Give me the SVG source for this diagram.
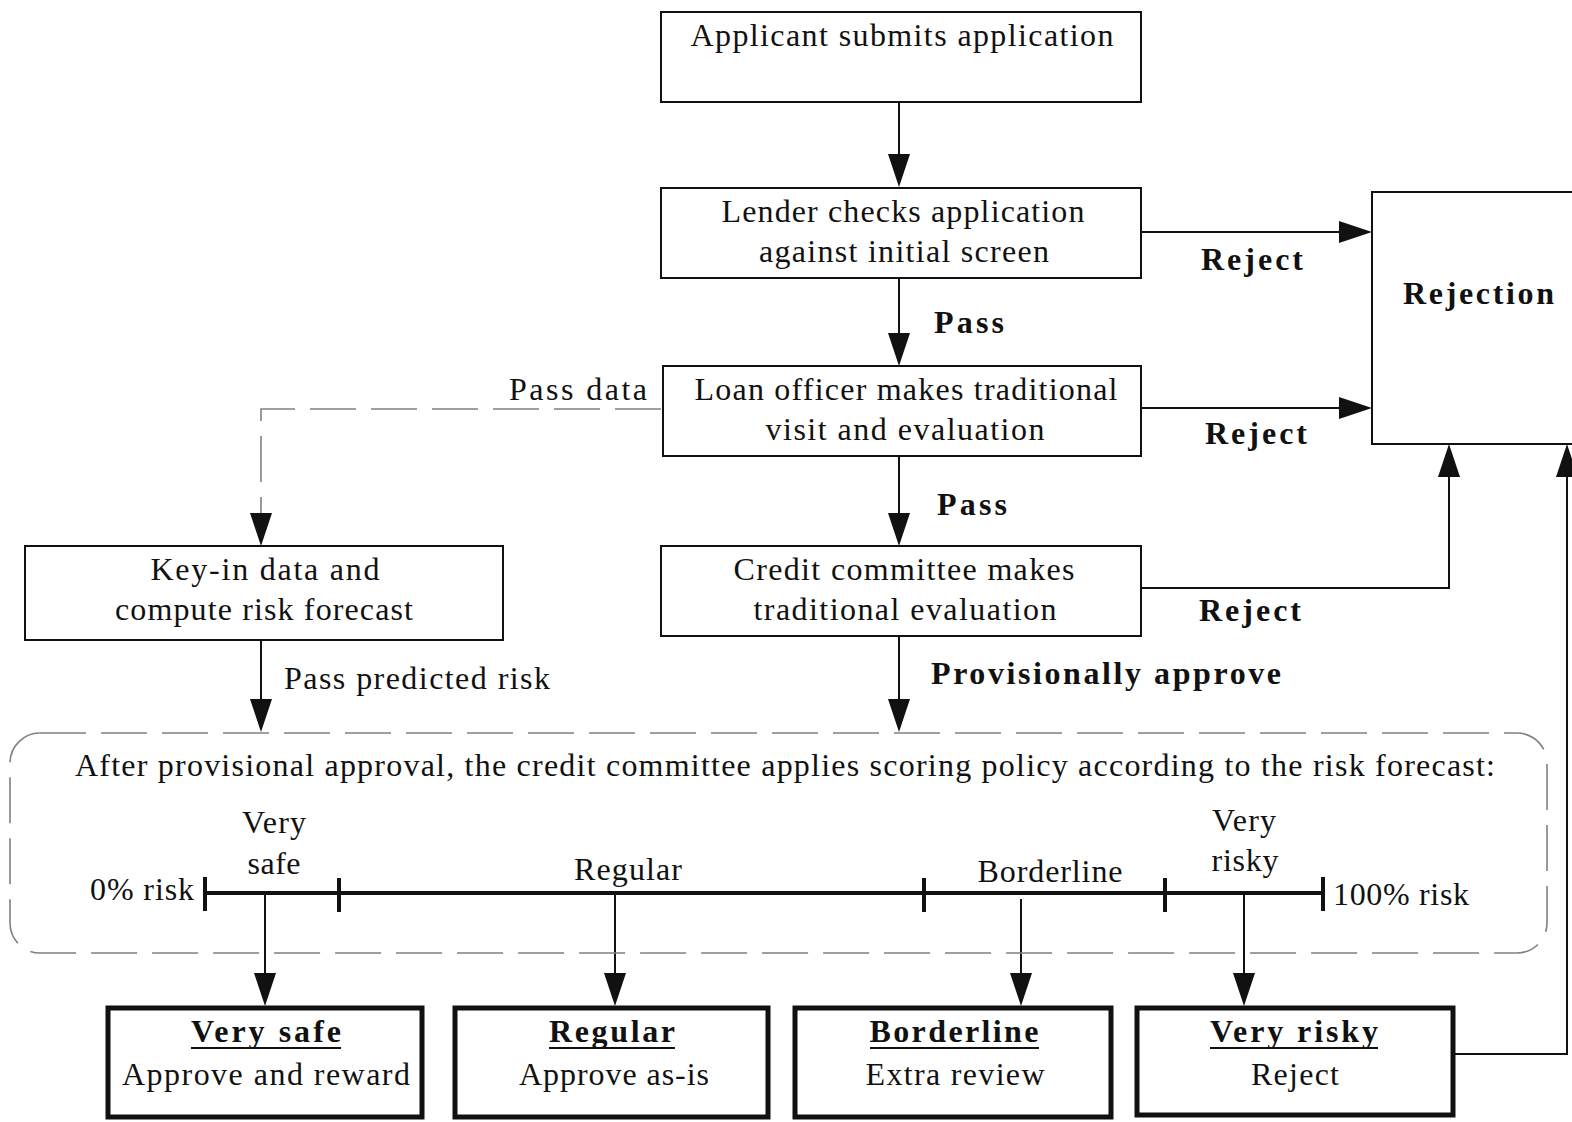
<svg xmlns="http://www.w3.org/2000/svg" width="1572" height="1122" viewBox="0 0 1572 1122">
<style>
text{font-family:"Liberation Serif","Times New Roman",serif;font-size:32px;fill:#111}
.b{font-weight:bold}
.m{text-anchor:middle}
.e{text-anchor:end}
.box{fill:#fff;stroke:#111;stroke-width:2}
.tbox{fill:#fff;stroke:#111;stroke-width:5}
.ln{fill:none;stroke:#111;stroke-width:2}
.dash{fill:none;stroke:#808080;stroke-width:1.6;stroke-dasharray:46 15}
.bar{fill:none;stroke:#111;stroke-width:4}
.ul{stroke:#111;stroke-width:2}
</style>
<defs>
<marker id="ah" markerUnits="userSpaceOnUse" markerWidth="34" markerHeight="22" refX="13" refY="11" orient="auto" viewBox="0 0 34 22">
<path d="M0,0 L33,11 L0,22 Z" fill="#111"/>
</marker>
</defs>
<rect width="1572" height="1122" fill="#fff"/>

<g id="connectors">
<path class="ln" d="M899,102 V167" marker-end="url(#ah)"/>
<path class="ln" d="M899,278 V346" marker-end="url(#ah)"/>
<path class="ln" d="M899,456 V526" marker-end="url(#ah)"/>
<path class="ln" d="M899,636 V712" marker-end="url(#ah)"/>
<path class="ln" d="M261,640 V712" marker-end="url(#ah)"/>
<path class="dash" d="M661,409 H261 V526" marker-end="url(#ah)"/>
<path class="ln" d="M1141,232 H1352" marker-end="url(#ah)"/>
<path class="ln" d="M1141,408 H1352" marker-end="url(#ah)"/>
<path class="ln" d="M1141,588 H1449 V464" marker-end="url(#ah)"/>
<path class="ln" d="M1454,1054 H1567 V464" marker-end="url(#ah)"/>
<path class="ln" d="M265,893 V986" marker-end="url(#ah)"/>
<path class="ln" d="M615,893 V986" marker-end="url(#ah)"/>
<path class="ln" d="M1021,899 V986" marker-end="url(#ah)"/>
<path class="ln" d="M1244,893 V986" marker-end="url(#ah)"/>
<text x="934" y="333" class="b" textLength="70">Pass</text>
<text x="937" y="515" class="b" textLength="70">Pass</text>
<text x="931" y="684" class="b" textLength="350">Provisionally approve</text>
<text x="1201" y="270" class="b" textLength="102">Reject</text>
<text x="1205" y="444" class="b" textLength="102">Reject</text>
<text x="1199" y="621" class="b" textLength="102">Reject</text>
<text x="647" y="400" class="e" textLength="138">Pass data</text>
<text x="284" y="689" textLength="266">Pass predicted risk</text>
</g>

<g id="n-applicant">
<rect class="box" x="661" y="12" width="480" height="90"/>
<text x="902" y="46" class="m" textLength="423">Applicant submits application</text>
</g>

<g id="n-lender">
<rect class="box" x="661" y="188" width="480" height="90"/>
<text x="903" y="222" class="m" textLength="363">Lender checks application</text>
<text x="904" y="262" class="m" textLength="290">against initial screen</text>
</g>

<g id="n-loan">
<rect class="box" x="663" y="366" width="478" height="90"/>
<text x="906" y="400" class="m" textLength="423">Loan officer makes traditional</text>
<text x="905" y="440" class="m" textLength="279">visit and evaluation</text>
</g>

<g id="n-credit">
<rect class="box" x="661" y="546" width="480" height="90"/>
<text x="904" y="580" class="m" textLength="341">Credit committee makes</text>
<text x="905" y="620" class="m" textLength="303">traditional evaluation</text>
</g>

<g id="n-keyin">
<rect class="box" x="25" y="546" width="478" height="94"/>
<text x="265" y="580" class="m" textLength="229">Key-in data and</text>
<text x="264" y="620" class="m" textLength="298">compute risk forecast</text>
</g>

<g id="n-rejection">
<rect class="box" x="1372" y="192" width="260" height="252"/>
<text x="1403" y="304" class="b" textLength="151">Rejection</text>
</g>

<g id="n-policy">
<rect class="dash" x="10" y="733" width="1537" height="220" rx="30" ry="30"/>
<text x="785" y="776" class="m" textLength="1420">After provisional approval, the credit committee applies scoring policy according to the risk forecast:</text>
<path class="bar" d="M205,893 H1323"/>
<path class="bar" d="M205,877 V911 M339,878 V912 M924,878 V912 M1165,878 V912 M1323,877 V911"/>
<text x="194" y="900" class="e" textLength="104">0% risk</text>
<text x="1333" y="905" textLength="136">100% risk</text>
<text x="274" y="833" class="m" textLength="64">Very</text>
<text x="274" y="874" class="m" textLength="53">safe</text>
<text x="628" y="880" class="m" textLength="108">Regular</text>
<text x="1050" y="882" class="m" textLength="145">Borderline</text>
<text x="1244" y="831" class="m" textLength="64">Very</text>
<text x="1245" y="871" class="m" textLength="67">risky</text>
</g>

<g id="n-verysafe">
<rect class="tbox" x="108" y="1008" width="314" height="109"/>
<text x="266" y="1042" class="m b" textLength="150">Very safe</text>
<line class="ul" x1="191" y1="1048" x2="341" y2="1048"/>
<text x="266" y="1085" class="m" textLength="288">Approve and reward</text>
</g>

<g id="n-regular">
<rect class="tbox" x="455" y="1008" width="313" height="109"/>
<text x="612" y="1042" class="m b" textLength="126">Regular</text>
<line class="ul" x1="549" y1="1048" x2="675" y2="1048"/>
<text x="614" y="1085" class="m" textLength="190">Approve as-is</text>
</g>

<g id="n-borderline">
<rect class="tbox" x="795" y="1008" width="316" height="109"/>
<text x="954" y="1042" class="m b" textLength="169">Borderline</text>
<line class="ul" x1="870" y1="1048" x2="1039" y2="1048"/>
<text x="955" y="1085" class="m" textLength="179">Extra review</text>
</g>

<g id="n-veryrisky">
<rect class="tbox" x="1137" y="1008" width="316" height="107"/>
<text x="1294" y="1042" class="m b" textLength="168">Very risky</text>
<line class="ul" x1="1210" y1="1048" x2="1378" y2="1048"/>
<text x="1295" y="1085" class="m" textLength="88">Reject</text>
</g>
</svg>
